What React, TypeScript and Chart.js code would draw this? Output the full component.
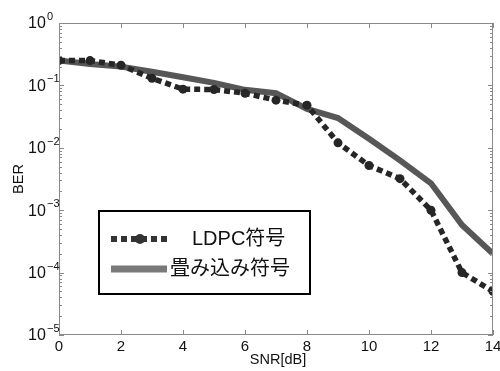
import React, { useEffect, useRef } from "react";
import { Chart, registerables } from "chart.js";

Chart.register(...registerables);

const snr = [0, 1, 2, 3, 4, 5, 6, 7, 8, 9, 10, 11, 12, 13, 14];
const ldpc = [0.25, 0.25, 0.21, 0.13, 0.087, 0.086, 0.075, 0.058, 0.048, 0.012, 0.0052, 0.0032, 0.001, 0.0001, 0.00005];
const conv = [0.25, 0.22, 0.2, 0.165, 0.135, 0.11, 0.085, 0.075, 0.042, 0.03, 0.014, 0.0063, 0.0027, 0.00058, 0.0002];
const xTicks = [0, 2, 4, 6, 8, 10, 12, 14];
const yExps = [0, -1, -2, -3, -4, -5];
const legendLabels = ["LDPC符号", "畳み込み符号"];
const xTitle = "SNR[dB]";
const yTitle = "BER";

const LATIN = '"Liberation Sans", Arial, sans-serif';
const JP = '"Liberation Sans", "Noto Sans CJK JP", sans-serif';

const framePlugin = {
  id: "framePlugin",
  afterDraw(chart: any) {
    const ctx = chart.ctx as CanvasRenderingContext2D;
    const { left, right, top, bottom } = chart.chartArea;
    const xs = chart.scales.x;
    const ys = chart.scales.y;
    ctx.save();
    // frame
    ctx.strokeStyle = "#8a8a8a";
    ctx.lineWidth = 1;
    ctx.strokeRect(left + 0.5, top + 0.5, right - left - 1, bottom - top - 1);
    // x ticks (inside, top and bottom)
    ctx.beginPath();
    for (const t of xTicks) {
      const px = Math.round(xs.getPixelForValue(t)) + 0.5;
      ctx.moveTo(px, bottom);
      ctx.lineTo(px, bottom - 5);
      ctx.moveTo(px, top);
      ctx.lineTo(px, top + 5);
    }
    // y ticks log major+minor
    for (let e = -5; e <= 0; e++) {
      for (let m = 1; m <= 9; m++) {
        const v = m * Math.pow(10, e);
        if (v > 1.0000001) continue;
        const py = Math.round(ys.getPixelForValue(v)) + 0.5;
        const len = m === 1 ? 5 : 3;
        ctx.moveTo(left, py);
        ctx.lineTo(left + len, py);
        ctx.moveTo(right, py);
        ctx.lineTo(right - len, py);
      }
    }
    ctx.stroke();

    // x labels
    ctx.fillStyle = "#111";
    ctx.font = `15px ${LATIN}`;
    ctx.textAlign = "center";
    ctx.textBaseline = "top";
    for (const t of xTicks) {
      ctx.fillText(String(t), xs.getPixelForValue(t), bottom + 4);
    }
    // y labels with superscripts
    for (const e of yExps) {
      const py = ys.getPixelForValue(Math.pow(10, e));
      ctx.font = `16px ${LATIN}`;
      ctx.textAlign = "left";
      ctx.textBaseline = "middle";
      ctx.fillText("10", 28, py + 1);
      ctx.font = `11px ${LATIN}`;
      ctx.fillText(String(e).replace("-", "−"), 47, py - 6);
    }
    // axis titles
    ctx.font = `14.5px ${LATIN}`;
    ctx.textAlign = "center";
    ctx.textBaseline = "middle";
    ctx.fillText(xTitle, 278, 360);
    ctx.save();
    ctx.translate(19, (top + bottom) / 2);
    ctx.rotate(-Math.PI / 2);
    ctx.fillText(yTitle, 0, 0);
    ctx.restore();

    // legend
    const lx = 99, ly = 211, lw = 211, lh = 83;
    ctx.fillStyle = "#fff";
    ctx.fillRect(lx, ly, lw, lh);
    ctx.strokeStyle = "#000";
    ctx.lineWidth = 2;
    ctx.strokeRect(lx, ly, lw, lh);
    // row1 sample
    const r1 = 239, r2 = 269;
    ctx.strokeStyle = "#333";
    ctx.lineWidth = 6;
    ctx.setLineDash([6, 4]);
    ctx.beginPath();
    ctx.moveTo(111, r1);
    ctx.lineTo(167, r1);
    ctx.stroke();
    ctx.setLineDash([]);
    ctx.fillStyle = "#333";
    ctx.beginPath();
    ctx.arc(140, r1, 5, 0, Math.PI * 2);
    ctx.fill();
    // row2 sample
    ctx.strokeStyle = "#7a7a7a";
    ctx.lineWidth = 7;
    ctx.beginPath();
    ctx.moveTo(111, r2);
    ctx.lineTo(167, r2);
    ctx.stroke();
    ctx.fillStyle = "#111";
    ctx.font = `20px ${JP}`;
    ctx.textAlign = "left";
    ctx.textBaseline = "middle";
    ctx.fillText(legendLabels[0], 192, r1);
    ctx.fillText(legendLabels[1], 170, r2);
    ctx.restore();
  },
};

export default function App() {
  const ref = useRef<HTMLCanvasElement>(null);
  useEffect(() => {
    document.body.style.margin = "0";
    const chart = new Chart(ref.current!, {
      type: "line",
      data: {
        labels: snr,
        datasets: [
          {
            label: legendLabels[0],
            data: snr.map((x, i) => ({ x, y: ldpc[i] })),
            borderColor: "#262626",
            backgroundColor: "#262626",
            borderWidth: 5.5,
            borderDash: [6, 4],
            borderCapStyle: "butt",
            pointRadius: 4.5,
            pointBackgroundColor: "#262626",
            pointBorderWidth: 0,
            tension: 0,
            order: 0,
          },
          {
            label: legendLabels[1],
            data: snr.map((x, i) => ({ x, y: conv[i] })),
            borderColor: "#575757",
            backgroundColor: "#575757",
            borderWidth: 6,
            pointRadius: 0,
            tension: 0,
            order: 1,
          },
        ],
      },
      options: {
        responsive: false,
        animation: false,
        layout: { padding: { left: 59, right: 7, top: 23, bottom: 36 } },
        plugins: { legend: { display: false }, tooltip: { enabled: false } },
        scales: {
          x: { type: "linear", min: 0, max: 14, display: false },
          y: { type: "logarithmic", min: 1e-5, max: 1, display: false },
        },
      },
      plugins: [framePlugin],
    } as any);
    return () => chart.destroy();
  }, []);
  return (
    <div style={{ width: 500, height: 371, background: "#fff" }}>
      <canvas ref={ref} width={500} height={371} />
    </div>
  );
}
